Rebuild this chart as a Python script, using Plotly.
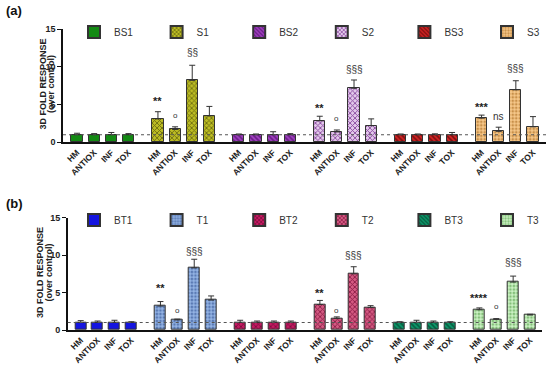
import plotly.graph_objects as go

categories = ["HM", "ANTIOX", "INF", "TOX"]

# Panel (a) series
a_names = ["BS1", "S1", "BS2", "S2", "BS3", "S3"]
a_BS1 = [1.0, 1.0, 1.0, 1.0]
a_BS1_err = [0.2, 0.15, 0.3, 0.15]
a_S1 = [3.1, 1.7, 8.2, 3.5]
a_S1_err = [0.95, 0.35, 2.0, 1.25]
a_BS2 = [1.0, 1.0, 1.0, 1.0]
a_BS2_err = [0.1, 0.1, 0.4, 0.15]
a_S2 = [2.85, 1.37, 7.15, 2.2]
a_S2_err = [0.6, 0.26, 1.1, 0.9]
a_BS3 = [1.0, 1.0, 1.0, 1.0]
a_BS3_err = [0.1, 0.1, 0.12, 0.3]
a_S3 = [3.2, 1.45, 6.95, 2.05]
a_S3_err = [0.4, 0.55, 1.2, 1.35]

# Panel (b) series
b_names = ["BT1", "T1", "BT2", "T2", "BT3", "T3"]
b_BT1 = [1.0, 1.0, 1.0, 1.0]
b_BT1_err = [0.25, 0.2, 0.3, 0.1]
b_T1 = [3.2, 1.35, 8.3, 4.0]
b_T1_err = [0.6, 0.1, 1.15, 0.55]
b_BT2 = [1.0, 1.0, 1.0, 1.0]
b_BT2_err = [0.3, 0.2, 0.2, 0.2]
b_T2 = [3.4, 1.55, 7.5, 3.0]
b_T2_err = [0.55, 0.2, 0.95, 0.25]
b_BT3 = [1.0, 1.0, 1.0, 1.0]
b_BT3_err = [0.1, 0.3, 0.2, 0.1]
b_T3 = [2.7, 1.42, 6.4, 2.0]
b_T3_err = [0.25, 0.1, 0.8, 0.1]

# Significance labels: (group index, category index, text, y position)
a_sig_group = [1, 1, 1, 3, 3, 3, 5, 5, 5]
a_sig_cat = [0, 1, 2, 0, 1, 2, 0, 1, 2]
a_sig_text = ["**", "o", "§§", "**", "o", "§§§", "***", "ns", "§§§"]
a_sig_y = [5.5, 3.5, 11.9, 4.6, 3.2, 9.6, 4.7, 3.4, 9.8]

b_sig_group = [1, 1, 1, 3, 3, 3, 5, 5, 5]
b_sig_cat = [0, 1, 2, 0, 1, 2, 0, 1, 2]
b_sig_text = ["**", "o", "§§§", "**", "o", "§§§", "****", "o", "§§§"]
b_sig_y = [5.55, 2.67, 10.5, 4.9, 2.67, 10.0, 4.3, 3.1, 9.0]

a_vals = [a_BS1, a_S1, a_BS2, a_S2, a_BS3, a_S3]
a_errs = [a_BS1_err, a_S1_err, a_BS2_err, a_S2_err, a_BS3_err, a_S3_err]
b_vals = [b_BT1, b_T1, b_BT2, b_T2, b_BT3, b_T3]
b_errs = [b_BT1_err, b_T1_err, b_BT2_err, b_T2_err, b_BT3_err, b_T3_err]

# styles: (bg color, pattern shape, fg color)
a_styles = [
    ("#138a13", "", "#0b5a0b"),
    ("#bcbc24", "x", "#6e6e10"),
    ("#a040c0", "\\", "#6a1e86"),
    ("#e2c8ea", "x", "#8a4aa0"),
    ("#d42424", "\\", "#7a0f0f"),
    ("#f6c88a", ".", "#c8904a"),
]
b_styles = [
    ("#1414e0", "", "#0a0a90"),
    ("#94b4e4", ".", "#5a7ab4"),
    ("#c41a62", "x", "#7a0c3a"),
    ("#d45a82", "x", "#8a1c44"),
    ("#0e9a6c", "\\", "#065a3e"),
    ("#ccf2c4", ".", "#84c07a"),
]

PERIOD = 4.72
BAR_W = 0.65
FONT = "Liberation Sans, Arial, sans-serif"


def xpos(g, i):
    return g * PERIOD + i


fig = go.Figure()

panels = [
    ("x", "y", "legend", a_names, a_vals, a_errs, a_styles),
    ("x2", "y2", "legend2", b_names, b_vals, b_errs, b_styles),
]

for xa, ya, lg, names, vals, errs, styles in panels:
    for g, (nm, v, e, st) in enumerate(zip(names, vals, errs, styles)):
        bg, shp, fg = st
        marker = dict(color=bg, line=dict(color="#333333", width=1))
        if shp:
            marker["pattern"] = dict(shape=shp, bgcolor=bg, fgcolor=fg, size=3.5, solidity=0.45, fillmode="replace")
        fig.add_trace(go.Bar(
            x=[xpos(g, i) for i in range(4)], y=v, name=nm, width=BAR_W,
            marker=marker, xaxis=xa, yaxis=ya, legend=lg,
            error_y=dict(type="data", symmetric=False, array=e, arrayminus=[0] * 4,
                         color="#333333", thickness=1, width=3),
        ))

tickvals = [xpos(g, i) for g in range(6) for i in range(4)]
ticktext = categories * 6

axis_common_x = dict(
    tickvals=tickvals, ticktext=ticktext, tickangle=-45,
    tickfont=dict(family=FONT, size=8.5, color="#222222", weight="bold"),
    showline=True, linecolor="#111111", linewidth=2, ticks="",
    showgrid=False, zeroline=False, automargin=False,
)
axis_common_y = dict(
    range=[0, 15], tickvals=[0, 5, 10, 15],
    tickfont=dict(family=FONT, size=9, color="#222222", weight="bold"),
    showline=True, linecolor="#111111", linewidth=1.5, ticks="outside", ticklen=4,
    tickcolor="#111111", showgrid=False, zeroline=False, automargin=False,
)

W, H = 550, 365
legend_common = dict(orientation="h", x=74 / W, yanchor="middle", xanchor="left",
                     entrywidth=37.6, entrywidthmode="pixels", bgcolor="rgba(0,0,0,0)",
                     font=dict(family=FONT, size=10, color="#333333"),
                     itemsizing="constant", tracegroupgap=0)
fig.update_layout(
    width=W, height=H, margin=dict(l=0, r=0, t=0, b=0, autoexpand=False),
    paper_bgcolor="white", plot_bgcolor="white",
    barmode="overlay", bargap=0,
    xaxis=dict(domain=[63 / W, 546 / W], range=[-0.82, 27.36], anchor="y", **axis_common_x),
    yaxis=dict(domain=[1 - 142.3 / H, 1 - 29 / H], anchor="x", **axis_common_y),
    xaxis2=dict(domain=[67.7 / W, 541.7 / W], range=[-0.77, 27.29], anchor="y2", **axis_common_x),
    yaxis2=dict(domain=[1 - 330 / H, 1 - 217.7 / H], anchor="x2", **axis_common_y),
    legend=dict(y=1 - 32 / H, **legend_common),
    legend2=dict(y=1 - 220 / H, **legend_common),
    showlegend=True,
)

# reference dotted line at 1
for xa, ya in [("x", "y"), ("x2", "y2")]:
    fig.add_shape(type="line", xref=f"{xa} domain", yref=ya, x0=0, x1=1, y0=1, y1=1,
                  line=dict(color="#555555", width=1, dash="dot"), layer="above")

annots = []
for xa, ya, grp, cat, txt, yy in [
    ("x", "y", a_sig_group, a_sig_cat, a_sig_text, a_sig_y),
    ("x2", "y2", b_sig_group, b_sig_cat, b_sig_text, b_sig_y),
]:
    for g, c, t, y in zip(grp, cat, txt, yy):
        if t.startswith("*"):
            fnt = dict(family=FONT, size=11, color="#222222", weight="bold")
        elif t == "o":
            fnt = dict(family=FONT, size=8, color="#333333")
        else:
            fnt = dict(family=FONT, size=10, color="#333333")
        annots.append(dict(x=xpos(g, c), y=y, xref=xa, yref=ya, text=t, showarrow=False,
                           font=fnt, xanchor="center", yanchor="middle"))

# y titles (two lines each)
for yc, x1, x2 in [(84.5, 42, 50.5), (273, 40, 48.5)]:
    for xx, txt in [(x1, "3D FOLD RESPONSE"), (x2, "(over control)")]:
        annots.append(dict(x=xx / W, y=1 - yc / H, xref="paper", yref="paper",
                           text=f"<b>{txt}</b>", textangle=-90, showarrow=False,
                           font=dict(family=FONT, size=9, color="#222222"),
                           xanchor="center", yanchor="middle"))

# panel labels
for lbl, yc in [("(a)", 10), ("(b)", 203)]:
    annots.append(dict(x=4 / W, y=1 - yc / H, xref="paper", yref="paper", text=f"<b>{lbl}</b>",
                       showarrow=False, font=dict(family=FONT, size=13, color="#111111"),
                       xanchor="left", yanchor="middle"))

fig.update_layout(annotations=annots)
fig.write_html("out.html", config={"displayModeBar": False},
               post_script="document.body.style.margin='0';document.body.style.overflow='hidden';")
